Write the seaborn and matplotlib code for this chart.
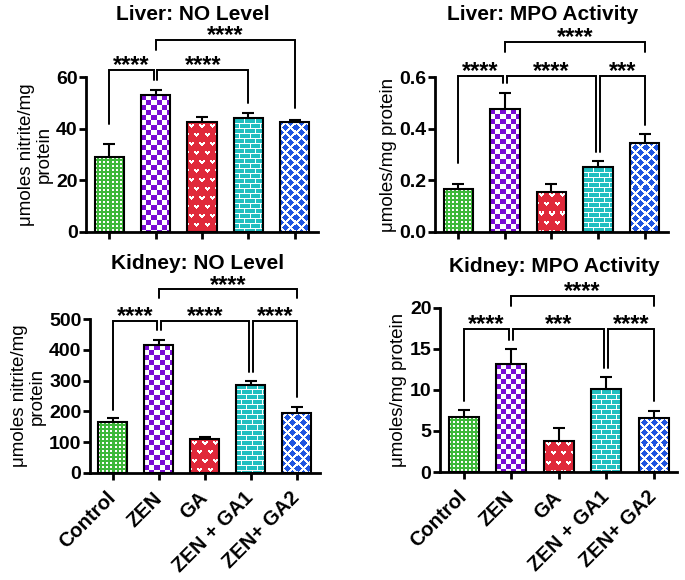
import numpy as np
import matplotlib
matplotlib.use('Agg')
import matplotlib.pyplot as plt
import seaborn as sns

# groups and bar colours
groups = ['Control', 'ZEN', 'GA', 'ZEN + GA1', 'ZEN+ GA2']
colors = ['#3DB83A', '#7A0AD4', '#E0283A', '#22BFC0', '#1F55E0']
textures = ['grid', 'checker', 'hearts', 'bricks', 'diamonds']

# values (mean, error)
liver_no_mean = [29, 53, 42.5, 44, 42.5]
liver_no_err = [5, 2, 2, 2, 1]
liver_mpo_mean = [0.165, 0.475, 0.155, 0.25, 0.345]
liver_mpo_err = [0.02, 0.065, 0.03, 0.025, 0.035]
kidney_no_mean = [165, 415, 110, 287, 195]
kidney_no_err = [15, 17, 8, 11, 20]
kidney_mpo_mean = [6.7, 13.1, 3.8, 10.1, 6.6]
kidney_mpo_err = [0.8, 1.9, 1.6, 1.5, 0.8]

sns.set_style('ticks')
plt.rcParams['font.family'] = ['Liberation Sans', 'DejaVu Sans']
for k in ['text.color', 'axes.labelcolor', 'xtick.color', 'ytick.color', 'axes.edgecolor']:
    plt.rcParams[k] = 'black'


def texture(kind, color, h, w):
    yy, xx = np.mgrid[0:h, 0:w]
    c = np.array(matplotlib.colors.to_rgb(color))
    white = np.ones(3)
    img = np.empty((h, w, 3))
    if kind == 'grid':
        mask = (xx % 4 < 2) & (yy % 4 < 2)
        img[:] = c
        img[mask] = white
    elif kind == 'checker':
        mask = ((xx // 5 + yy // 5) % 2) == 0
        img[:] = white
        img[mask] = c
    elif kind == 'hearts':
        heart = np.zeros((9, 10), bool)
        heart[2, [2, 3, 5, 6]] = True
        heart[3, 2:7] = True
        heart[4, 3:6] = True
        heart[5, 4] = True
        ty = yy // 9
        mask = heart[yy % 9, (xx + 5 * (ty % 2)) % 10]
        img[:] = c
        img[mask] = white
    elif kind == 'bricks':
        row = yy // 5
        mask = (yy % 5 == 0) | (((xx + 5 * (row % 2)) % 10) == 0)
        img[:] = c
        img[mask] = white
    else:
        d1 = np.abs(xx % 10 - 5) + np.abs(yy % 10 - 5)
        d2 = np.abs((xx + 5) % 10 - 5) + np.abs((yy + 5) % 10 - 5)
        mask = (d1 <= 3) | (d2 <= 3)
        img[:] = white
        img[mask] = c
    return img


panels = [
    dict(title='Liver: NO Level', ylabel='μmoles nitrite/mg\nprotein',
         mean=liver_no_mean, err=liver_no_err, ylim=(0, 60), yticks=[0, 20, 40, 60],
         rect=[0.1255, 0.6, 0.3387, 0.267], pad=41, tx=0.46, xlabels=False,
         brackets=[(0, 0.96, 62.7, 41.8, 58.8, '****'),
                   (1.04, 3, 62.7, 58.8, 49.9, '****'),
                   (1, 4, 74.3, 70.5, 48, '****')]),
    dict(title='Liver: MPO Activity', ylabel='μmoles/mg protein',
         mean=liver_mpo_mean, err=liver_mpo_err, ylim=(0, 0.6), yticks=[0.0, 0.2, 0.4, 0.6],
         rect=[0.635, 0.6, 0.340, 0.267], pad=41, tx=0.46, xlabels=False,
         brackets=[(0, 0.96, 0.604, 0.267, 0.577, '****'),
                   (1.04, 2.96, 0.604, 0.577, 0.31, '****'),
                   (3.04, 4, 0.604, 0.31, 0.414, '***'),
                   (1, 4, 0.735, 0.697, 0.697, '****')]),
    dict(title='Kidney: NO Level', ylabel='μmoles nitrite/mg\nprotein',
         mean=kidney_no_mean, err=kidney_no_err, ylim=(0, 500), yticks=[0, 100, 200, 300, 400, 500],
         rect=[0.131, 0.1845, 0.336, 0.2655], pad=36, tx=0.47, xlabels=True,
         brackets=[(0, 0.96, 494, 204, 464, '****'),
                   (1.04, 2.96, 494, 464, 329, '****'),
                   (3.04, 4, 494, 329, 248, '****'),
                   (1, 4, 596, 568, 568, '****')]),
    dict(title='Kidney: MPO Activity', ylabel='μmoles/mg protein',
         mean=kidney_mpo_mean, err=kidney_mpo_err, ylim=(0, 20), yticks=[0, 5, 10, 15, 20],
         rect=[0.642, 0.1862, 0.347, 0.283], pad=26, tx=0.48, xlabels=True,
         brackets=[(0, 0.96, 17.4, 8.6, 16.1, '****'),
                   (1.04, 2.96, 17.4, 16.1, 12.7, '***'),
                   (3.04, 4, 17.4, 12.7, 8.6, '****'),
                   (1, 4, 21.4, 20.2, 20.2, '****')]),
]

fig = plt.figure(figsize=(6.85, 5.8), dpi=100)

for p in panels:
    ax = fig.add_axes(p['rect'])
    sns.barplot(x=groups, y=p['mean'], hue=groups, palette=colors, legend=False,
                errorbar=None, width=0.63, edgecolor='black', linewidth=1.5, ax=ax)
    ax.set_xlim(-0.5, 4.5)
    ax.set_ylim(*p['ylim'])
    ax.set_yticks(p['yticks'])

    # pixel scale of this axes so textures come out ~1 px per cell
    pos = ax.get_position()
    px_x = pos.width * fig.get_figwidth() * fig.dpi / 5.0
    px_y = pos.height * fig.get_figheight() * fig.dpi / (p['ylim'][1] - p['ylim'][0])

    bars = list(ax.patches)
    centers = []
    for bar, kind, col in zip(bars, textures, colors):
        x0, w, h = bar.get_x(), bar.get_width(), bar.get_height()
        centers.append(x0 + w / 2)
        img = texture(kind, col, max(1, int(round(h * px_y))), max(1, int(round(w * px_x))))
        im = ax.imshow(img, extent=(x0, x0 + w, 0, h), aspect='auto',
                       interpolation='nearest', zorder=2.5)
        im.set_clip_path(bar)
        bar.set_facecolor('none')
        bar.set_zorder(3)
    ax.set_xlim(-0.5, 4.5)
    ax.set_ylim(*p['ylim'])

    ax.errorbar(centers, p['mean'], yerr=p['err'], fmt='none', ecolor='black',
                elinewidth=1.5, capsize=4, capthick=1.5, zorder=2)

    # significance brackets
    for x1, x2, yl, ya, yb, label in p['brackets']:
        ax.plot([x1, x1, x2, x2], [ya, yl, yl, yb], color='black', lw=1.4,
                clip_on=False, solid_joinstyle='miter', zorder=4)
        ax.annotate(label, xy=((x1 + x2) / 2, yl), xytext=(0, -1.5),
                    textcoords='offset points', ha='center', va='baseline',
                    fontsize=17, fontweight='bold', annotation_clip=False)

    sns.despine(ax=ax)
    for s in ['left', 'bottom']:
        ax.spines[s].set_linewidth(2)
    ax.tick_params(width=2, length=5, labelsize=14, pad=1)
    for t in ax.get_yticklabels():
        t.set_fontweight('bold')
    ax.set_xlabel('')
    ax.set_xticks(range(5))
    if p['xlabels']:
        ax.set_xticklabels(groups, rotation=45, ha='right', va='center',
                           rotation_mode='anchor', fontweight='bold', fontsize=14.5)
        ax.tick_params(axis='x', pad=11)
    else:
        ax.set_xticklabels([])
    ax.set_ylabel(p['ylabel'], fontsize=13.5, linespacing=1.1, labelpad=2)
    ax.set_title(p['title'], fontsize=15, fontweight='bold', pad=p['pad'], x=p['tx'])

fig.savefig('out.png', dpi=100)
